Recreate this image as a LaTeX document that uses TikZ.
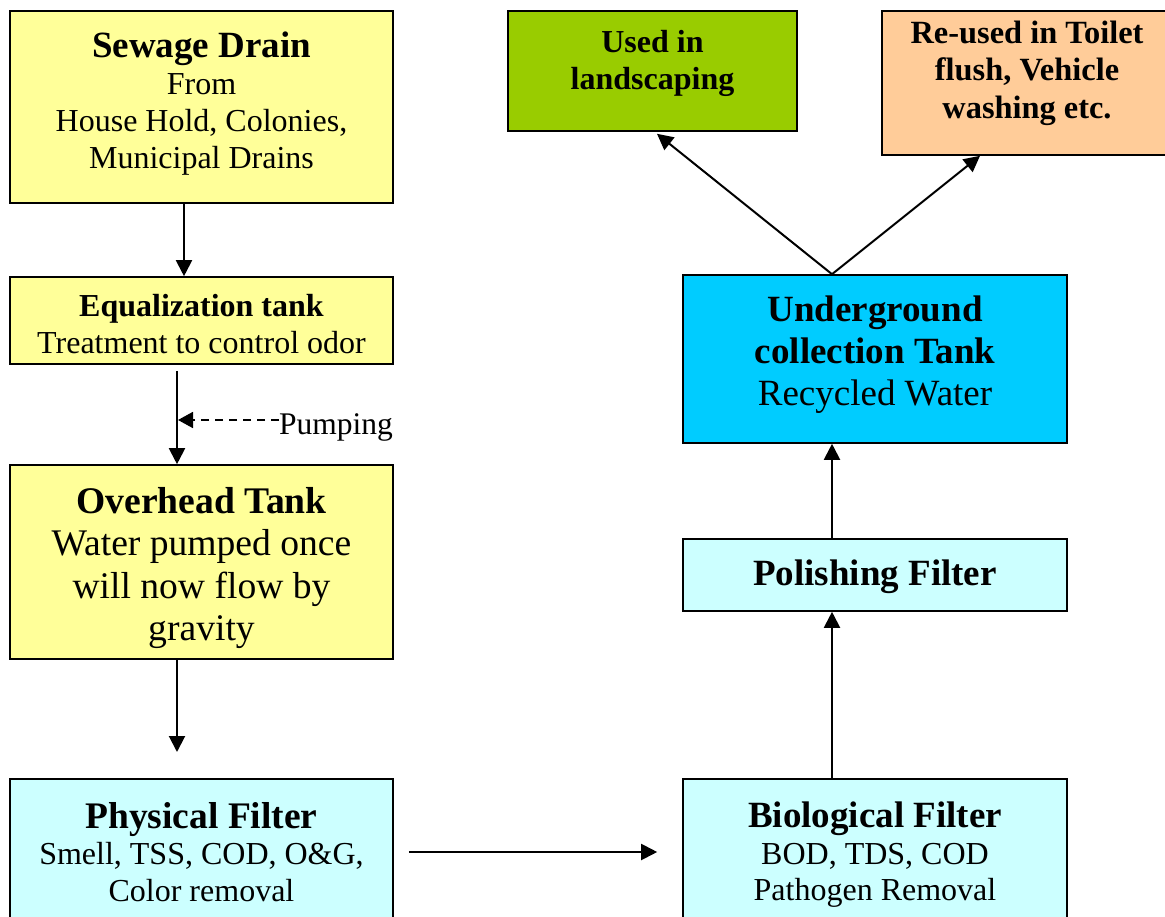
\documentclass[tikz,border=0pt]{standalone}
\usepackage{fontspec}
\setmainfont{Liberation Serif}
\usetikzlibrary{arrows.meta}
\definecolor{yel}{HTML}{FFFF99}
\definecolor{lcy}{HTML}{CCFFFF}
\definecolor{grn}{HTML}{99CC00}
\definecolor{org}{HTML}{FFCC99}
\definecolor{blu}{HTML}{00CCFF}
\tikzset{
  box/.style={draw=black, line width=1.6pt, inner sep=0pt},
  lbl/.style={align=center, inner sep=0pt},
  arr/.style={line width=2pt, -{Triangle[length=16pt,width=16pt]}},
  darr/.style={line width=1.8pt, dash pattern=on 8pt off 6pt, -{Triangle[length=15pt,width=16pt]}},
}
\begin{document}
\begin{tikzpicture}[x=1pt,y=-1pt]
\useasboundingbox (0,0) rectangle (1165,917);
% left column
\node[box, fill=yel, minimum width=383pt, minimum height=192pt,
  label={[lbl, yshift=3pt, font=\fontsize{32}{37}\selectfont]center:{{\fontsize{37}{37}\selectfont\bfseries Sewage Drain}\\From\\House Hold, Colonies,\\Municipal Drains}}]
  (sew) at (201.5,107) {};
\node[box, fill=yel, minimum width=383pt, minimum height=87pt,
  label={[lbl, yshift=-4pt, font=\fontsize{32}{37}\selectfont]center:{{\bfseries Equalization tank}\\Treatment to control odor}}]
  (eq) at (201.5,320.5) {};
\node[box, fill=yel, minimum width=383pt, minimum height=194pt,
  label={[lbl, yshift=-6pt, font=\fontsize{37.6}{42.5}\selectfont]center:{{\bfseries Overhead Tank}\\Water pumped once\\will now flow by\\gravity}}]
  (ov) at (201.5,562) {};
\node[box, fill=lcy, minimum width=383pt, minimum height=146pt,
  label={[lbl, yshift=0pt, font=\fontsize{32}{36.5}\selectfont]center:{{\fontsize{37.5}{37}\selectfont\bfseries Physical Filter}\\Smell, TSS, COD, O\&G,\\Color removal}}]
  (phys) at (201.5,852) {};
% right column
\node[box, fill=lcy, minimum width=384pt, minimum height=146pt,
  label={[lbl, yshift=-3pt, font=\fontsize{32}{36.5}\selectfont]center:{{\fontsize{37}{37}\selectfont\bfseries Biological Filter}\\BOD, TDS, COD\\Pathogen Removal}}]
  (bio) at (875,852) {};
\node[box, fill=lcy, minimum width=384pt, minimum height=72pt,
  label={[lbl, yshift=-2pt, font=\fontsize{37}{42}\selectfont\bfseries]center:Polishing Filter}]
  (pol) at (875,575) {};
\node[box, fill=blu, minimum width=384pt, minimum height=168pt,
  label={[lbl, yshift=4pt, font=\fontsize{37}{42}\selectfont]center:{{\bfseries Underground}\\{\bfseries collection Tank}\\Recycled Water}}]
  (ug) at (875,359) {};
\node[box, fill=grn, minimum width=289pt, minimum height=120pt,
  label={[lbl, yshift=8pt, font=\fontsize{32}{37}\selectfont\bfseries]center:{Used in\\landscaping}}]
  (land) at (652.5,71) {};
\node[box, fill=org, minimum width=290pt, minimum height=144pt,
  label={[lbl, yshift=10pt, font=\fontsize{32.4}{37.5}\selectfont\bfseries]center:{Re-used in Toilet\\flush, Vehicle\\washing etc.}}]
  (reuse) at (1027,83) {};
% pumping label
\node[anchor=base west, inner sep=0pt, font=\fontsize{31.5}{36}\selectfont] (pump) at (279,434) {Pumping};
\coordinate (pj) at (178,420);
\coordinate (ovend) at (177,752);
% connectors
\draw[arr] ([xshift=-17.5pt]sew.south) -- ([xshift=-17.5pt]eq.north);
\draw[arr] ([xshift=-24.5pt,yshift=-6pt]eq.south) -- ([xshift=-24.5pt]ov.north);
\draw[darr] (pump.west |- pj) -- (pj);
\draw[arr] ([xshift=-24.5pt]ov.south) -- (ovend);
\draw[arr] ([xshift=15pt]phys.east) -- ([xshift=-25pt]bio.west);
\draw[arr] ([xshift=-43pt]bio.north) -- ([xshift=-43pt]pol.south);
\draw[arr] ([xshift=-43pt]pol.north) -- ([xshift=-43pt]ug.south);
\draw[arr] ([xshift=-43pt]ug.north) -- ([xshift=4.5pt,yshift=-2pt]land.south);
\draw[arr] ([xshift=-43pt]ug.north) -- ([xshift=-47pt]reuse.south);
\end{tikzpicture}
\end{document}
